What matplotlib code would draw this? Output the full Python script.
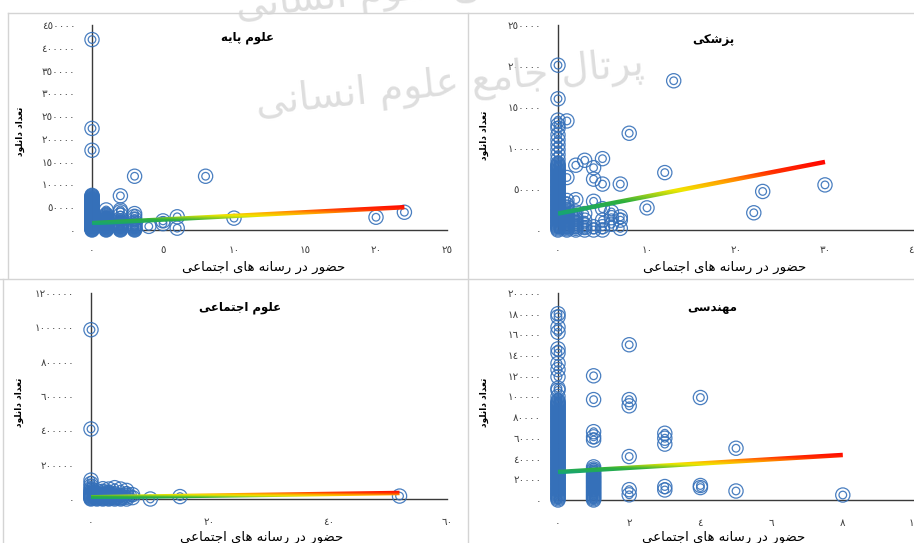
import numpy as np
import matplotlib
matplotlib.use("Agg")
import matplotlib.pyplot as plt
from matplotlib.colors import LinearSegmentedColormap
from matplotlib.patches import Polygon
from matplotlib.lines import Line2D

# ---- data: download counts grouped by social-media presence score ----
basic_cols = {
    0: [0, 1200, 2500, 3700, 5000, 6300, 7500, 8800, 10000, 11400, 12600, 13800, 15100, 16300,
        17600, 18800, 20100, 21400, 22600, 24000, 25300, 26500, 27900, 29100, 30400, 31700,
        33000, 34300, 35700, 37000, 38200, 39600, 41000, 42300, 43500, 45000, 46300, 47600,
        49000, 50200, 51600, 53000, 54400, 55600, 57000, 58400, 59700, 61200, 62600, 64000,
        65500, 67000, 68400, 70000, 71500, 73000, 74600, 76000, 175000, 223000, 418000],
    1: [0, 1300, 2600, 4000, 5300, 6600, 8000, 9300, 10700, 12000, 13300, 14700, 16000, 17400,
        18700, 20000, 21500, 23000, 24600, 26000, 28000, 30000, 32000, 34000, 44000],
    2: [0, 1500, 3000, 4500, 6000, 7500, 9000, 10500, 12000, 13500, 15000, 17000, 20000,
        25000, 33000, 40000, 44000, 75000],
    3: [0, 1500, 3000, 4500, 6000, 7500, 9000, 11000, 14000, 18000, 24000, 30000, 36000,
        118000],
    4: [8000],
    5: [14000, 20000],
    6: [4000, 29000],
    8: [118000],
    10: [26000],
    20: [28000],
    22: [39000],
}
medical_cols = {
    0: [0, 1400, 2800, 4200, 5500, 7000, 8300, 9800, 11200, 12500, 14000, 15400, 16800, 18100,
        19600, 21000, 22400, 23700, 25200, 26600, 28000, 29300, 30800, 32200, 33500, 35000,
        36400, 37800, 39100, 40600, 42000, 43400, 44700, 46200, 47600, 49000, 50300, 51800,
        53200, 54600, 55900, 57400, 58800, 60200, 61500, 63000, 64500, 66000, 67400, 69000,
        70500, 72000, 73400, 75000, 76500, 78000, 79400, 81000, 86000, 92000, 98000, 104000,
        110000, 116000, 124000, 128000, 134000, 160000, 201000],
    1: [0, 1500, 3000, 4500, 6000, 7500, 9000, 10500, 12000, 13500, 15000, 16500, 18000,
        20000, 22000, 25000, 28000, 31000, 36000, 64000, 133000],
    2: [0, 2000, 4000, 6000, 8000, 10000, 13000, 16000, 22000, 37000, 79000],
    3: [0, 3000, 6000, 12000, 20000, 85000],
    4: [0, 4000, 35000, 62000, 76000],
    5: [0, 4000, 12000, 26000, 56000, 87000],
    6: [7000, 15000, 22000],
    7: [2000, 12000, 16000, 56000],
    8: [118000],
    10: [27000],
    12: [70000],
    13: [182000],
    22: [21000],
    23: [47000],
    30: [55000],
}
social_cols = {
    0: [0, 4000, 8000, 12000, 16000, 20000, 25000, 30000, 36000, 42000, 50000, 60000, 75000,
        90000, 110000, 408000, 986000],
    1: [0, 4000, 8000, 12000, 16000, 20000, 25000, 30000, 35000, 48000],
    2: [0, 4000, 8000, 12000, 16000, 20000, 25000, 30000, 45000, 60000],
    3: [0, 4000, 8000, 12000, 18000, 25000, 32000, 40000, 58000],
    4: [0, 5000, 10000, 15000, 22000, 30000, 66000],
    5: [0, 5000, 10000, 20000, 58000],
    6: [0, 10000, 20000, 30000, 50000],
    7: [8000, 25000],
    10: [0],
    15: [14000],
    52: [17000],
}
eng_cols = {
    0: [0, 1200, 2400, 3500, 4800, 6000, 7100, 8400, 9600, 10800, 11900, 13200, 14400, 15600,
        16700, 18000, 19200, 20400, 21500, 22800, 24000, 25200, 26300, 27600, 28800, 30000,
        31100, 32400, 33600, 34800, 35900, 37200, 38400, 39600, 40700, 42000, 43200, 44400,
        45500, 46800, 48000, 49200, 50300, 51600, 52800, 54000, 55100, 56400, 57600, 58800,
        59900, 61200, 62400, 63600, 64700, 66000, 67200, 68400, 69500, 70800, 72000, 73200,
        74300, 75600, 76800, 78000, 79100, 80400, 81600, 82800, 83900, 85200, 86400, 87600,
        88700, 90000, 91200, 92400, 93500, 94800, 96000, 100000, 106000, 108000, 119000,
        126000, 132000, 142000, 146000, 162000, 167000, 177000, 180000],
    1: [0, 1200, 2400, 3600, 4800, 6000, 7200, 8400, 9600, 10800, 12000, 13200, 14400, 15600,
        16800, 18000, 19200, 20400, 21600, 22800, 24000, 25500, 27000, 28500, 30000, 32000,
        58000, 61000, 66000, 97000, 120000],
    2: [5000, 10000, 42000, 91000, 97000, 150000],
    3: [9700, 13000, 54000, 59700, 64500],
    4: [12000, 14000, 99000],
    5: [8700, 50000],
    8: [4800],
}

# linear trend (value at x=0, value at the largest x)
basic_trend = [15000, 50000]
medical_trend = [20000, 83000]
social_trend = [10000, 35000]
eng_trend = [27000, 43500]

basic_xticks = [0, 5, 10, 15, 20, 25]
medical_xticks = [0, 10, 20, 30, 40]
social_xticks = [0, 20, 40, 60]
eng_xticks = [0, 2, 4, 6, 8, 10]
basic_yticks = [0, 50000, 100000, 150000, 200000, 250000, 300000, 350000, 400000, 450000]
medical_yticks = [0, 50000, 100000, 150000, 200000, 250000]
social_yticks = [0, 200000, 400000, 600000, 800000, 1000000, 1200000]
eng_yticks = [0, 20000, 40000, 60000, 80000, 100000, 120000, 140000, 160000, 180000, 200000]

titles = ["علوم پایه", "پزشکی", "علوم اجتماعی", "مهندسی"]
x_label = "حضور در رسانه های اجتماعی"
y_label = "تعداد دانلود"
watermark = "پرتال جامع علوم انسانی"

# ---- minimal arabic/persian shaping (matplotlib has no RTL support) ----
FORMS = {
    "ا": (0xFE8D, 0xFE8E, None, None), "د": (0xFEA9, 0xFEAA, None, None),
    "ر": (0xFEAD, 0xFEAE, None, None), "ز": (0xFEAF, 0xFEB0, None, None),
    "و": (0xFEED, 0xFEEE, None, None),
    "ع": (0xFEC9, 0xFECA, 0xFECB, 0xFECC), "ل": (0xFEDD, 0xFEDE, 0xFEDF, 0xFEE0),
    "م": (0xFEE1, 0xFEE2, 0xFEE3, 0xFEE4), "ه": (0xFEE9, 0xFEEA, 0xFEEB, 0xFEEC),
    "ش": (0xFEB5, 0xFEB6, 0xFEB7, 0xFEB8), "ج": (0xFE9D, 0xFE9E, 0xFE9F, 0xFEA0),
    "ت": (0xFE95, 0xFE96, 0xFE97, 0xFE98), "ن": (0xFEE5, 0xFEE6, 0xFEE7, 0xFEE8),
    "ح": (0xFEA1, 0xFEA2, 0xFEA3, 0xFEA4), "ض": (0xFEBD, 0xFEBE, 0xFEBF, 0xFEC0),
    "س": (0xFEB1, 0xFEB2, 0xFEB3, 0xFEB4), "پ": (0xFB56, 0xFB57, 0xFB58, 0xFB59),
    "ی": (0xFBFC, 0xFBFD, 0xFBFE, 0xFBFF), "ک": (0xFB8E, 0xFB8F, 0xFB90, 0xFB91),
}


def shape(text):
    out = []
    for i, c in enumerate(text):
        if c not in FORMS:
            out.append(c)
            continue
        prev = text[i - 1] if i > 0 else None
        nxt = text[i + 1] if i + 1 < len(text) else None
        iso, fin, ini, med = FORMS[c]
        link_prev = prev in FORMS and FORMS[prev][2] is not None
        link_next = nxt in FORMS and ini is not None
        if link_prev and link_next:
            g = med
        elif link_prev:
            g = fin
        elif link_next:
            g = ini
        else:
            g = iso
        out.append(chr(g))
    return "".join(reversed(out))


def arabic_digits(v):
    return str(int(v)).translate(str.maketrans("0123456789", "٠١٢٣٤٥٦٧٨٩"))


W, H = 914, 543
BLUE = "#3570b9"
trend_cmap = LinearSegmentedColormap.from_list(
    "trend", [(0.0, "#14a37c"), (0.25, "#2eb03c"), (0.45, "#f0e800"),
              (0.6, "#ffa500"), (0.78, "#ff3000"), (1.0, "#ff0000")])


def gradient_line(ax, x0, x1, y0, y1, width_px=4.5):
    # thick straight line filled with a corner-to-corner gradient
    p = ax.transData.transform([[x0, y0], [x1, y1]])
    d = (p[1] - p[0]) / np.hypot(*(p[1] - p[0]))
    n = np.array([-d[1], d[0]]) * width_px / 2
    corners = np.array([p[0] + n, p[1] + n, p[1] - n, p[0] - n])
    lo, hi = corners.min(axis=0), corners.max(axis=0)
    U, V = np.meshgrid(np.linspace(0, 1, 400), np.linspace(0, 1, 60))
    T = 0.3 * U + 0.7 * V
    inv = ax.transData.inverted()
    (ex0, ey0), (ex1, ey1) = inv.transform([lo, hi])
    im = ax.imshow(T, cmap=trend_cmap, vmin=0, vmax=1, origin="lower", aspect="auto",
                   extent=(ex0, ex1, ey0, ey1), interpolation="bilinear", zorder=4)
    clip = Polygon(inv.transform(corners), closed=True, transform=ax.transData,
                   facecolor="none", edgecolor="none")
    ax.add_patch(clip)
    im.set_clip_path(clip)


fig = plt.figure(figsize=(W / 100, H / 100), dpi=100)
plt.rcParams["font.family"] = ["DejaVu Sans"]

# watermark behind the charts
for wx, wy in [(450, 85), (430, -12)]:
    fig.text(wx / W, 1 - wy / H, shape(watermark), fontsize=28, color="#dedede",
             rotation=6, ha="center", va="center", zorder=0)

# panel frames
frame = "#d4d4d4"
for (xa, ya), (xb, yb) in [((8, 13), (914, 13)), ((8, 13), (8, 278)), ((468, 13), (468, 543)),
                           ((0, 279), (914, 279)), ((3, 279), (3, 543))]:
    fig.add_artist(Line2D([xa / W, xb / W], [1 - ya / H, 1 - yb / H], transform=fig.transFigure,
                          color=frame, lw=1.0, zorder=1))

panels = [
    (basic_cols, basic_trend, basic_xticks, basic_yticks, (92, 25, 447, 230),
     (247, 37), (264, 267), (20, 131), 11),
    (medical_cols, medical_trend, medical_xticks, medical_yticks, (558, 25, 914, 230),
     (713, 40), (725, 267), (484, 135), 11),
    (social_cols, social_trend, social_xticks, social_yticks, (91, 293, 447, 499),
     (240, 308), (262, 537), (19, 402), 13),
    (eng_cols, eng_trend, eng_xticks, eng_yticks, (558, 293, 914, 500),
     (712, 308), (724, 537), (484, 402), 13),
]

for title, (cols, trend, xt, yt, box, tpos, xlpos, ylpos, xpad) in zip(titles, panels):
    l, t, r, b = box
    ax = fig.add_axes([l / W, 1 - b / H, (r - l) / W, (b - t) / H])
    ax.set_facecolor("none")

    xs = [x for x in cols for _ in cols[x]]
    ys = [y for x in cols for y in cols[x]]
    for s in (105, 30):
        ax.scatter(xs, ys, s=s, facecolors="none", edgecolors=BLUE, linewidths=0.9,
                   alpha=0.9, zorder=3, clip_on=False)

    xlim = (xt[0], xt[-1])
    ylim = (yt[0], yt[-1])
    ax.set_xlim(xlim)
    ax.set_ylim(ylim)
    gradient_line(ax, 0, max(xs), trend[0], trend[1])
    ax.set_xlim(xlim)
    ax.set_ylim(ylim)

    ax.set_xticks(xt)
    ax.set_xticklabels([arabic_digits(v) for v in xt])
    ax.set_yticks(yt)
    ax.set_yticklabels([arabic_digits(v) for v in yt])
    ax.tick_params(axis="x", length=0, pad=xpad, labelsize=7.5, colors="#404040")
    ax.tick_params(axis="y", length=0, pad=12, labelsize=7.5, colors="#404040")
    for side in ("top", "right"):
        ax.spines[side].set_visible(False)
    for side in ("left", "bottom"):
        ax.spines[side].set_color("#3a3a3a")
        ax.spines[side].set_linewidth(1.0)

    fig.text(tpos[0] / W, 1 - tpos[1] / H, shape(title), fontsize=8.5, fontweight="bold",
             ha="center", va="center")
    fig.text(xlpos[0] / W, 1 - xlpos[1] / H, shape(x_label), fontsize=9.5,
             ha="center", va="center")
    fig.text(ylpos[0] / W, 1 - ylpos[1] / H, shape(y_label), fontsize=6.5, fontweight="bold",
             rotation=90, ha="center", va="center")

fig.savefig("out.png", dpi=100)
